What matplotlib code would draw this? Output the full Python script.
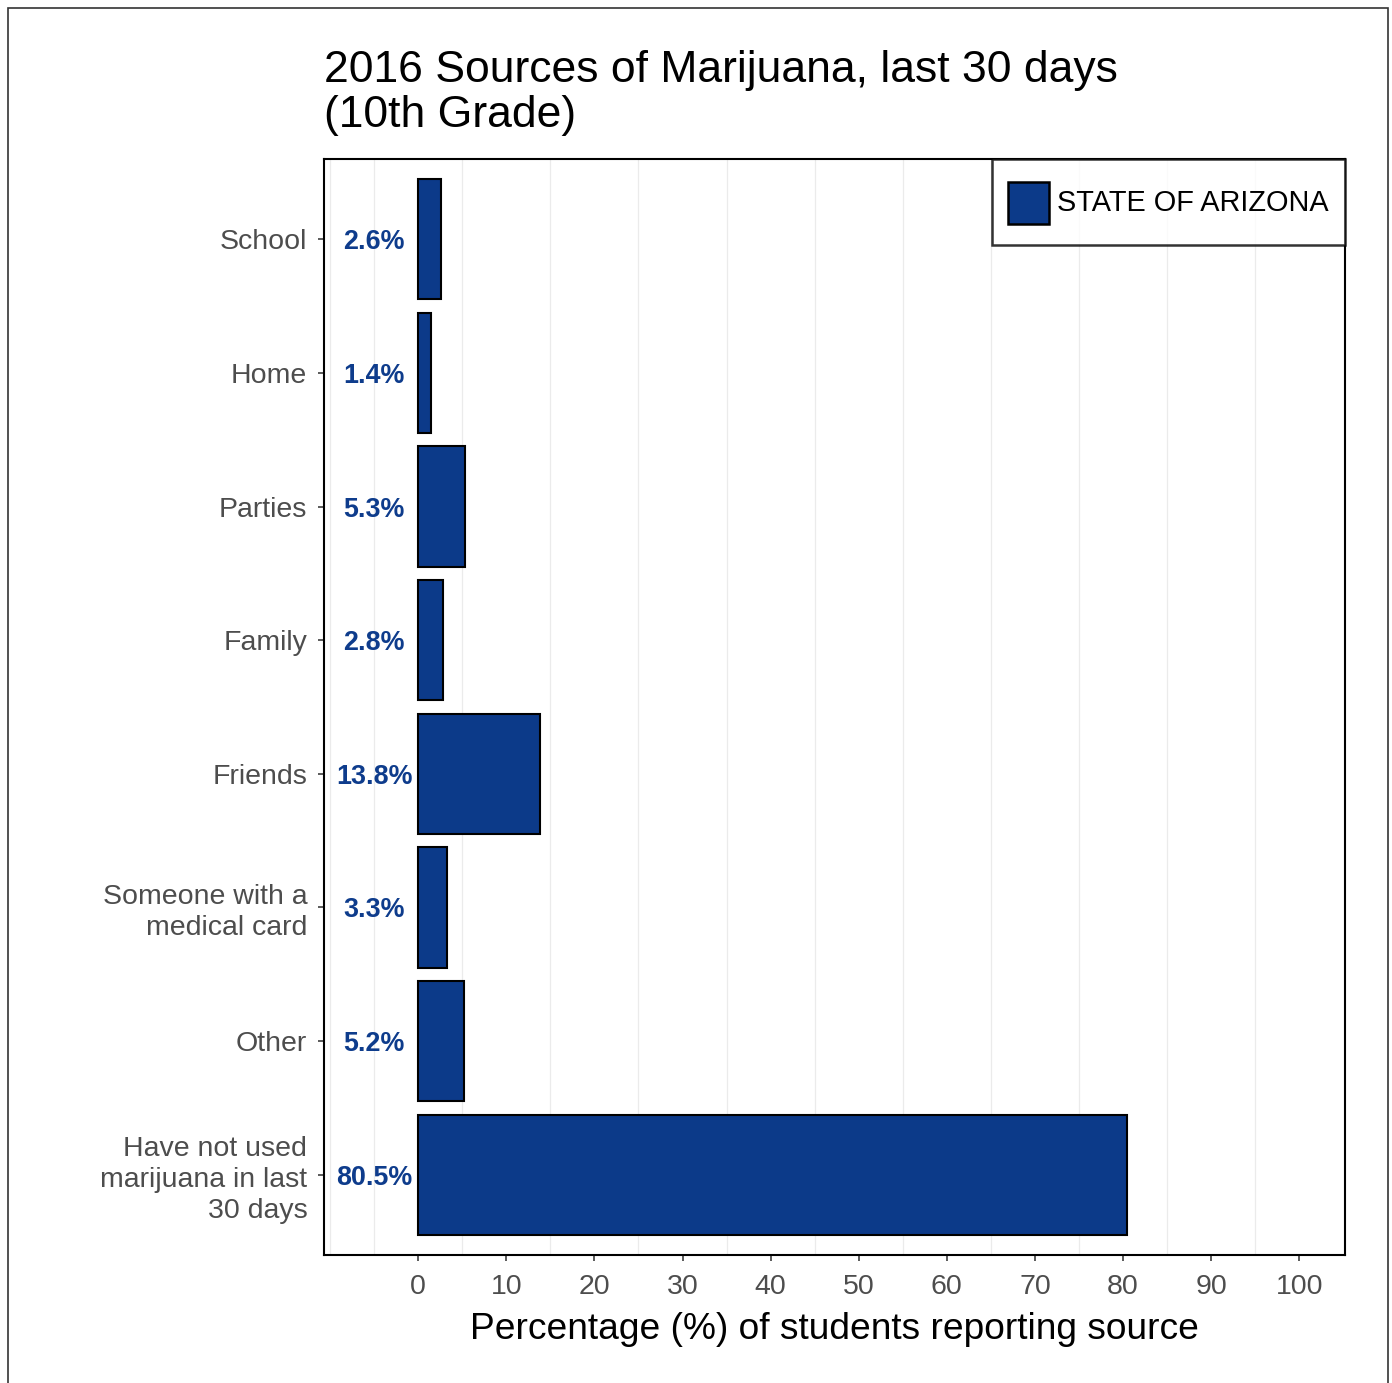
import matplotlib
matplotlib.use("Agg")
import matplotlib.pyplot as plt
from matplotlib.patches import Rectangle, Patch
from matplotlib.legend_handler import HandlerPatch

plt.rcParams['font.family'] = ['Liberation Sans', 'DejaVu Sans']

categories = ["School", "Home", "Parties", "Family", "Friends",
              "Someone with a\nmedical card", "Other",
              "Have not used\nmarijuana in last\n30 days"]
values = [2.6, 1.4, 5.3, 2.8, 13.8, 3.3, 5.2, 80.5]
value_labels = ["2.6%", "1.4%", "5.3%", "2.8%", "13.8%", "3.3%", "5.2%", "80.5%"]
x_ticks = [0, 10, 20, 30, 40, 50, 60, 70, 80, 90, 100]
series_name = "STATE OF ARIZONA"

bar_color = "#0C3A89"
label_color = "#0E3C8C"
tick_color = "#4D4D4D"

W, H = 1392, 1383
fig = plt.figure(figsize=(W / 100, H / 100), dpi=100)

# outer frame around the whole figure
fig.patches.append(Rectangle((8 / W, -0.01), (1388 - 8) / W, 1 - 8 / H + 0.01,
                             transform=fig.transFigure, fill=False,
                             edgecolor="#333333", linewidth=1.2))

ax = fig.add_axes([324 / W, 1 - 1255 / H, (1345 - 324) / W, (1255 - 159) / H])

ypos = list(range(len(categories)))
ax.barh(ypos, values, height=0.9, color=bar_color, edgecolor="black",
        linewidth=1.5, zorder=3)

for y, lab in zip(ypos, value_labels):
    ax.text(-5, y, lab, ha="center", va="center_baseline", fontsize=19.4,
            fontweight="bold", color=label_color, zorder=4)

ax.set_xlim(-10.7, 105.2)
ax.set_ylim(len(categories) - 0.4, -0.6)

# light vertical grid between the labelled ticks
for gx in [-10, -5] + [5 + 10 * i for i in range(10)]:
    ax.axvline(gx, color="#EBEBEB", linewidth=0.9, zorder=1)

ax.set_xticks(x_ticks)
ax.set_xticklabels([str(t) for t in x_ticks])
ax.set_yticks(ypos)
ax.set_yticklabels(categories, linespacing=1.24)
ax.tick_params(axis="both", colors=tick_color, labelcolor=tick_color,
               labelsize=20.5, length=4.5, width=1.3)
ax.tick_params(axis="y", pad=7.5)
ax.tick_params(axis="x", pad=9)

for s in ax.spines.values():
    s.set_color("black")
    s.set_linewidth(1.5)

ax.set_xlabel("Percentage (%) of students reporting source", fontsize=26.7,
              color="black", labelpad=9)

ax.set_title("2016 Sources of Marijuana, last 30 days\n(10th Grade)", loc="left",
             fontsize=32, color="black", pad=23, linespacing=1.12)


def square_key(legend, orig_handle, xdescent, ydescent, width, height, fontsize):
    # square key centred vertically in a taller legend row
    return Rectangle((-xdescent, -ydescent + (height - width) / 2 - 1), width, width)


handle = Patch(facecolor=bar_color, edgecolor="black", linewidth=1.8)
leg = ax.legend([handle], [series_name], loc="upper right", bbox_to_anchor=(1.0, 1.0),
                borderaxespad=0, fontsize=20.8, frameon=True, fancybox=False,
                handlelength=1.45, handleheight=2.5, handletextpad=0.28,
                borderpad=0.55,
                handler_map={Patch: HandlerPatch(patch_func=square_key)})
leg.get_frame().set_edgecolor("black")
leg.get_frame().set_linewidth(1.8)
leg.set_zorder(5)

fig.savefig("out.png", dpi=100, facecolor="white")
